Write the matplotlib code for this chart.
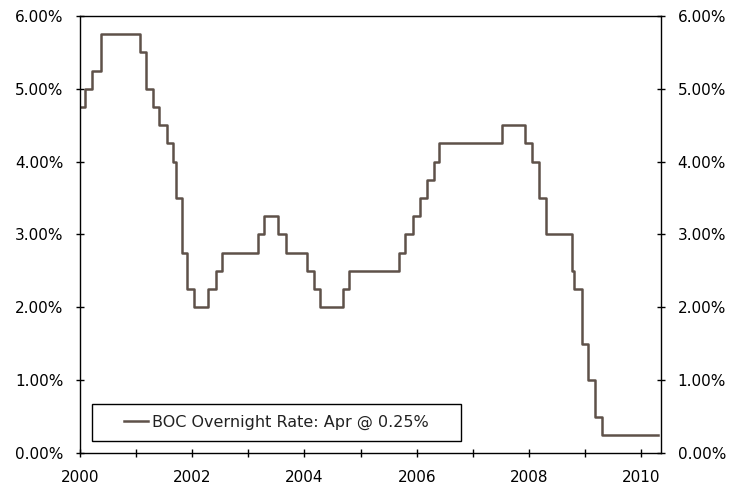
import matplotlib
matplotlib.use("Agg")
import matplotlib.pyplot as plt
import matplotlib.dates as mdates
import matplotlib.ticker as mticker
from matplotlib.patches import Rectangle
import pandas as pd

# BOC overnight target rate: dates of change and new level (%)
change_dates = ["2000-01-01", "2000-02-03", "2000-03-22", "2000-05-17",
                "2001-01-23", "2001-03-06", "2001-04-17", "2001-05-29",
                "2001-07-17", "2001-08-28", "2001-09-17", "2001-10-23",
                "2001-11-27", "2002-01-15", "2002-04-16", "2002-06-04",
                "2002-07-16", "2003-03-04", "2003-04-15", "2003-07-15",
                "2003-09-03", "2004-01-20", "2004-03-02", "2004-04-13",
                "2004-09-08", "2004-10-19", "2005-09-07", "2005-10-18",
                "2005-12-06", "2006-01-24", "2006-03-07", "2006-04-25",
                "2006-05-24", "2007-07-10", "2007-12-04", "2008-01-22",
                "2008-03-04", "2008-04-22", "2008-10-08", "2008-10-21",
                "2008-12-09", "2009-01-20", "2009-03-03", "2009-04-21",
                "2010-04-20"]
rates = [4.75, 5.00, 5.25, 5.75,
         5.50, 5.00, 4.75, 4.50,
         4.25, 4.00, 3.50, 2.75,
         2.25, 2.00, 2.25, 2.50,
         2.75, 3.00, 3.25, 3.00,
         2.75, 2.50, 2.25, 2.00,
         2.25, 2.50, 2.75, 3.00,
         3.25, 3.50, 3.75, 4.00,
         4.25, 4.50, 4.25, 4.00,
         3.50, 3.00, 2.50, 2.25,
         1.50, 1.00, 0.50, 0.25,
         0.25]

data = pd.DataFrame({"Date": pd.to_datetime(change_dates), "Rate": rates})

fig = plt.figure(figsize=(7.43, 4.87), dpi=100)
ax = fig.add_axes([0.1077, 0.0698, 0.782, 0.8975])

ax.plot(data["Date"], data["Rate"], drawstyle="steps-post", color="#5e5149",
        lw=1.8, label="BOC Overnight Rate: Apr @ 0.25%")

ax.set_xlim(pd.Timestamp("2000-01-01"), pd.Timestamp("2010-05-10"))
ax.set_ylim(0, 6)
ax.yaxis.set_major_locator(mticker.MultipleLocator(1))
ax.yaxis.set_major_formatter(mticker.FormatStrFormatter("%.2f%%"))
ax.xaxis.set_major_locator(mdates.YearLocator(2))
ax.xaxis.set_minor_locator(mdates.YearLocator(1))
ax.xaxis.set_major_formatter(mdates.DateFormatter("%Y"))

ax.tick_params(axis="both", which="both", direction="inout", length=6,
               width=1, labelsize=11, colors="black")
ax.tick_params(axis="y", right=True, labelright=True, pad=9)
ax.tick_params(axis="x", pad=9)
for s in ax.spines.values():
    s.set_linewidth(1)

# legend box drawn separately so it can be wider than its content
ax.add_patch(Rectangle((0.0207, 0.0275), 0.635, 0.0847, transform=ax.transAxes,
                       facecolor="white", edgecolor="black", lw=1, zorder=4))
leg = ax.legend(loc="center", bbox_to_anchor=(0.338, 0.070), fontsize=11.5,
                frameon=False, handlelength=1.45, handletextpad=0.25,
                borderpad=0)
leg.set_zorder(5)
for t in leg.get_texts():
    t.set_color("#222222")

fig.savefig("out.png", dpi=100)
plt.close()
